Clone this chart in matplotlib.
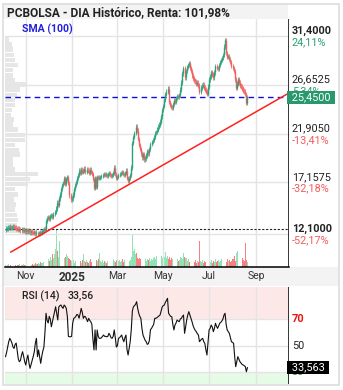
import numpy as np
import pandas as pd
import matplotlib
matplotlib.use("Agg")
import matplotlib.pyplot as plt
from matplotlib.patches import Rectangle
import matplotlib.transforms as mtransforms

plt.rcParams['font.family'] = ['Roboto', 'DejaVu Sans']

# ---------------- data ----------------
dates = pd.bdate_range('2024-10-07', '2025-08-20')

close_oct = [12.6, 12.65, 12.7, 12.75, 12.8, 12.7, 12.75, 12.85, 12.8, 12.7,
             12.65, 12.6, 12.55, 12.6, 12.5, 12.55, 12.45, 12.5, 12.4]
close_nov = [12.45, 12.4, 12.5, 12.35, 12.3, 12.4, 12.3, 12.25, 12.35, 12.2,
             12.25, 12.15, 12.2, 12.3, 12.25, 12.4, 12.5, 12.6, 12.55, 13.4, 13.7]
close_dec = [13.8, 13.6, 13.9, 14.0, 13.8, 14.1, 14.3, 14.6, 15.2, 15.0, 15.6,
             16.0, 16.5, 16.9, 17.1, 17.6, 17.0, 17.5, 17.7, 17.1, 15.9, 15.5]
close_jan = [15.6, 16.0, 16.5, 16.9, 17.2, 17.6, 17.9, 18.3, 18.1, 18.4, 18.2,
             18.3, 18.5, 18.2, 18.4, 18.3, 18.1, 18.4, 18.2, 18.0, 17.5, 16.6, 17.6]
close_feb = [16.7, 17.7, 17.6, 17.6, 17.7, 17.8, 17.9, 18.0, 17.9, 17.9, 17.8,
             18.0, 18.1, 17.9, 17.8, 17.9, 18.1, 18.6, 18.0, 17.6]
close_mar = [17.7, 17.9, 18.0, 18.1, 18.2, 18.0, 17.9, 18.1, 18.3, 17.6, 17.3,
             17.6, 17.9, 18.6, 21.0, 21.6, 22.0, 22.6, 22.2, 21.4, 20.8]
close_apr = [20.4, 20.0, 19.6, 19.9, 19.4, 19.5, 19.8, 20.2, 20.0, 20.4, 20.9,
             21.1, 21.3, 21.6, 22.0, 22.1, 22.3, 22.6, 22.8, 23.1, 23.6, 24.2]
close_may = [24.6, 25.2, 25.8, 26.0, 26.3, 25.0, 24.7, 24.5, 24.4, 24.8, 25.2,
             25.0, 25.4, 25.6, 25.5, 25.7, 26.2, 26.9, 27.8, 28.3, 27.4, 28.0]
close_jun = [28.4, 28.6, 28.8, 28.3, 28.0, 27.6, 27.3, 27.1, 27.0, 26.8, 26.9,
             26.6, 26.0, 26.4, 26.6, 26.7, 26.4, 26.2, 26.0, 25.8, 26.5]
close_jul = [27.2, 27.5, 27.9, 27.7, 27.4, 27.9, 28.5, 28.3, 28.2, 28.6, 28.9,
             29.1, 29.3, 29.6, 30.4, 31.0, 29.8, 29.4, 29.5, 29.2, 28.9, 28.5, 28.3]
close_aug = [28.0, 27.2, 26.4, 26.8, 27.2, 26.9, 26.6, 26.5, 26.3, 26.1, 26.0,
             25.8, 24.9, 25.45]
first_open = 12.55

vol_oct = [2, 1, 2, 3, 1, 2, 2, 1, 3, 2, 1, 2, 2, 3, 1, 2, 2, 3, 2]
vol_nov = [2, 3, 2, 2, 3, 2, 3, 2, 3, 4, 3, 3, 4, 3, 5, 4, 4, 5, 6, 15, 10]
vol_dec = [8, 6, 10, 7, 12, 9, 12, 17, 36, 15, 10, 25, 15, 12, 13, 9, 10, 12, 11, 9, 8, 7]
vol_jan = [6, 5, 7, 4, 6, 5, 8, 5, 6, 4, 7, 12, 6, 5, 7, 5, 4, 6, 8, 5, 7, 22, 8]
vol_feb = [7, 6, 8, 13, 6, 5, 7, 4, 6, 5, 4, 6, 5, 7, 6, 5, 8, 6, 5, 7]
vol_mar = [5, 6, 7, 5, 6, 8, 5, 7, 6, 5, 8, 6, 7, 10, 32, 15, 17, 12, 13, 9, 8]
vol_apr = [9, 8, 10, 7, 9, 8, 6, 8, 7, 9, 6, 8, 7, 9, 10, 8, 11, 12, 10, 13, 11, 9]
vol_may = [12, 10, 14, 9, 11, 8, 10, 7, 9, 8, 6, 9, 7, 8, 6, 7, 10, 9, 8, 13, 10, 9]
vol_jun = [9, 6, 8, 5, 7, 8, 6, 5, 7, 4, 6, 5, 25, 6, 5, 7, 4, 6, 5, 7, 6]
vol_jul = [6, 5, 7, 4, 6, 5, 8, 5, 6, 7, 5, 6, 8, 9, 7, 6, 5, 8, 6, 7, 5, 6, 8]
vol_aug = [8, 11, 6, 13, 15, 8, 6, 7, 9, 7, 6, 23, 7, 5]

rsi_oct = [41.8, 45, 49, 53, 55.5, 54, 52, 49, 48, 51, 52, 46, 40, 38, 39, 43, 45.5, 42, 38]
rsi_nov = [35.5, 40, 43, 37, 33, 36, 39, 42, 45.5, 52, 55.5, 41.8, 46.8, 42, 36.8,
           42, 46, 49, 60, 74.3, 69]
rsi_dec = [67, 72, 70, 64.2, 68, 71.7, 76, 79.2, 74, 69.3, 79, 80, 80.5, 79, 78,
           80.5, 79.5, 78, 72, 57, 56.7, 56.7]
rsi_jan = [57, 66.8, 70.5, 71, 72, 73.5, 73, 70.6, 74, 78, 75, 70.5, 72, 71.7, 70,
           68, 70.5, 69, 68, 66, 55, 46.8, 61.8]
rsi_feb = [46.8, 61.8, 57, 55.5, 55.5, 56, 57, 58, 57, 57, 56.7, 57, 59.3, 58, 56,
           55.5, 57, 61.8, 56, 49]
rsi_mar = [50, 55.5, 56, 57, 58, 55, 53, 56, 58, 47, 43, 48, 53, 62, 76, 79.2, 80,
           81, 83, 78, 74.3]
rsi_apr = [72, 70.5, 63, 58, 56, 54, 53, 51, 51.5, 54, 62, 63, 64.5, 66, 70.5, 70.5,
           71, 71.7, 72.5, 73, 76, 79]
rsi_may = [80, 80.5, 82.5, 84, 85.5, 74.3, 73, 72, 71.7, 66, 61.8, 65.5, 67, 69.3,
           68.5, 68, 70, 70.5, 72, 73, 59.3, 64]
rsi_jun = [69.3, 73, 75.5, 73, 70.5, 68, 65, 63, 61.5, 60.5, 59, 58, 53, 54, 55,
           55.5, 53, 51.8, 47, 43, 52]
rsi_jul = [61.8, 63, 65.5, 64, 60.5, 63, 66.8, 64.5, 63, 65, 66.8, 67.5, 68.5, 70,
           73, 74.3, 66, 61.8, 60.5, 59.3, 56, 53, 52.5]
rsi_aug = [51.8, 42, 34.3, 38, 41.8, 40, 38, 37, 36, 35.5, 35, 34.3, 30.5, 33.56]

# volume profile (price level, relative width)
profile_prices = [12.5, 13.0, 13.5, 14.0, 14.5, 15.0, 15.5, 16.0, 16.5, 17.0, 17.5,
                  18.0, 18.4, 18.9, 19.4, 19.9, 20.3, 20.8, 21.3, 21.8, 22.3, 22.8,
                  23.3, 23.7, 24.2, 24.7, 25.2, 25.7, 26.2, 26.7, 27.1, 27.6, 28.1,
                  28.6, 29.1, 29.6, 30.1, 30.6, 31.1]
profile_widths = [13, 12, 13, 12, 10, 11, 9, 13, 10, 23, 25, 33, 10, 8, 8, 15, 14, 10,
                  20, 20, 13, 8, 9, 6, 7, 10, 10, 12, 15, 22, 10, 8, 8, 13, 10, 9, 8, 7, 4]

price_levels = [31.4, 26.6525, 21.905, 17.1575, 12.1]
price_texts = ['31,4000', '26,6525', '21,9050', '17,1575', '12,1000']
pct_texts = ['24,11%', '5,34%', '-13,41%', '-32,18%', '-52,17%']
start_price = 12.6
last_price = 25.45
last_text = '25,4500'
rsi_last_text = '33,563'
rsi_header = '33,56'
title = 'PCBOLSA - DIA Histórico, Renta: 101,98%'
month_labels = ['Nov', '2025', 'Mar', 'May', 'Jul', 'Sep']
month_starts = ['2024-11', '2025-01', '2025-03', '2025-05', '2025-07', '2025-09']
trend_dates = ['2024-10-14', '2025-11-07']
trend_prices = [10.38, 26.95]

closes = np.array(close_oct + close_nov + close_dec + close_jan + close_feb + close_mar +
                  close_apr + close_may + close_jun + close_jul + close_aug)
vols = np.array(vol_oct + vol_nov + vol_dec + vol_jan + vol_feb + vol_mar +
                vol_apr + vol_may + vol_jun + vol_jul + vol_aug, dtype=float)
rsi = np.array(rsi_oct + rsi_nov + rsi_dec + rsi_jan + rsi_feb + rsi_mar +
               rsi_apr + rsi_may + rsi_jun + rsi_jul + rsi_aug)
n = len(dates)
opens = np.concatenate([[first_open], closes[:-1]])
idx = np.arange(n)

# index positions of calendar dates (extended business calendar)
cal = pd.bdate_range('2024-10-07', '2025-12-31')
def pos(d):
    return int(np.searchsorted(cal, pd.Timestamp(d)))
tick_pos = [pos(m + '-01') for m in month_starts]
trend_x = [pos(d) for d in trend_dates]

# ---------------- figure ----------------
W, H = 343, 390
fig = plt.figure(figsize=(W / 100, H / 100), dpi=100)
def fx(px): return px / W
def fy(py): return 1 - py / H

GREEN = '#26a17a'
RED = '#f25c5c'
VGREEN = '#8fe3b4'
VRED = '#f77f7f'
GRID = '#e4e4e4'

# outer frame & strips
fig.add_artist(Rectangle((fx(3), fy(286)), fx(335), 19 / H, transform=fig.transFigure,
                         facecolor='#f3f3f3', edgecolor='none', zorder=0))
fig.add_artist(Rectangle((fx(3), fy(19)), fx(285), 16 / H, transform=fig.transFigure,
                         facecolor='#f3f3f3', edgecolor='none', zorder=0))
fig.add_artist(Rectangle((fx(3.5), fy(384.5)), fx(335), 381 / H, transform=fig.transFigure,
                         facecolor='none', edgecolor='#dddddd', lw=1.2, zorder=10))

L, R = 5, 289
ax = fig.add_axes([fx(L), fy(267), fx(R - L), 248 / H])
xlim = (-0.5, 266)
ax.set_xlim(*xlim)
ax.set_ylim(8.92, 33.09)
for s in ax.spines.values():
    s.set_visible(False)
ax.axvline(xlim[1], color='black', lw=1.1, zorder=6)
ax.axhline(8.92, color='black', lw=1.1, zorder=6, clip_on=False)
for t in tick_pos:
    ax.axvline(t, color=GRID, lw=1, zorder=0)
for p in price_levels:
    ax.axhline(p, color=GRID, lw=1, zorder=0)

# volume profile
btrans = mtransforms.blended_transform_factory(ax.transAxes, ax.transData)
for p, w in zip(profile_prices, profile_widths):
    ax.add_patch(Rectangle((0, p - 0.22), w / (R - L), 0.44, transform=btrans,
                           facecolor='#e6e6e6', edgecolor='none', zorder=1))

# volume
axv = ax.twinx()
axv.set_xlim(*xlim)
axv.set_ylim(0, vols.max() * 6.6)
axv.axis('off')
vcol = [VGREEN if c >= o else VRED for o, c in zip(opens, closes)]
axv.bar(idx, vols, width=0.75, color=vcol, zorder=2)

# candles (body plus short wick)
ccol = [GREEN if c >= o else RED for o, c in zip(opens, closes)]
lo = np.minimum(opens, closes)
hi = np.maximum(opens, closes)
hi = np.where(hi - lo < 0.1, lo + 0.1, hi)
ax.vlines(idx, lo - 0.22, hi + 0.22, colors=ccol, lw=0.55, zorder=4)
ax.vlines(idx, lo, hi, colors=ccol, lw=1.0, zorder=4)

# reference lines
ax.axhline(start_price, color='#222222', lw=0.8, ls=(0, (2, 1.5)), zorder=3)
ax.axhline(last_price, color='#1010dd', lw=1.0, ls=(0, (4, 3)), zorder=3)
ax.plot(trend_x, trend_prices, color='#ff2020', lw=1.1, zorder=5)

ax.set_xticks(tick_pos)
ax.set_xticklabels(month_labels)
ax.tick_params(axis='x', length=0, pad=3, labelsize=7.5, colors='#333333')
ax.get_xticklabels()[1].set_fontweight('bold')
ax.get_xticklabels()[1].set_fontsize(8.5)
ax.set_yticks([])
ax.set_zorder(3)
axv.set_zorder(2)
ax.patch.set_visible(False)

# right price labels
rtrans = mtransforms.blended_transform_factory(ax.transAxes, ax.transData)
xr = 1.01
for i, (p, t, pt) in enumerate(zip(price_levels, price_texts, pct_texts)):
    bold = i in (0, 4)
    ax.text(xr, p + 0.05, t, transform=rtrans, ha='left', va='bottom', fontsize=7.8,
            fontweight='bold' if bold else 'normal', color='#222222', clip_on=False)
    ax.text(xr, p - 0.1, pt, transform=rtrans, ha='left', va='top', fontsize=7.8,
            color='#2e9e6e' if i < 2 else '#f25c5c', clip_on=False)
ax.text(1.0, last_price, ' ' + last_text + ' ', transform=rtrans, ha='left', va='center',
        fontsize=7.8, color='white', clip_on=False, zorder=8,
        bbox=dict(boxstyle='square,pad=0.15', facecolor='#27996c', edgecolor='none'))

# titles
fig.text(fx(7), fy(12.5), title, ha='left', va='center', fontsize=8.6, fontweight='bold',
         color='#222222')
fig.text(fx(22), fy(29), 'SMA (100)', ha='left', va='center', fontsize=7.6,
         fontweight='bold', color='#2222dd')

# ---------------- RSI ----------------
axr = fig.add_axes([fx(L), fy(384), fx(R - L), 97 / H])
axr.set_xlim(*xlim)
axr.set_ylim(21.3, 94)
for s in axr.spines.values():
    s.set_visible(False)
axr.axhspan(70, 94, color='#fde8e8', lw=0, zorder=0)
axr.axhspan(21.3, 30, color='#e6fbe6', lw=0, zorder=0)
for t in tick_pos:
    axr.axvline(t, color=GRID, lw=1, zorder=1)
for lv in (70, 50, 30):
    axr.axhline(lv, color=GRID, lw=1, zorder=1)
axr.axvline(xlim[1], color='black', lw=1.1, zorder=6)
axr.plot(idx, rsi, color='#111111', lw=0.8, zorder=4)
axr.set_xticks([])
axr.set_yticks([])
rt2 = mtransforms.blended_transform_factory(axr.transAxes, axr.transData)
axr.text(xr, 70, '70', transform=rt2, ha='left', va='center', fontsize=7.8,
         fontweight='bold', color='#ee1111', clip_on=False)
axr.text(xr, 50, '50', transform=rt2, ha='left', va='center', fontsize=7.8,
         color='#222222', clip_on=False)
axr.text(xr, 30, '30', transform=rt2, ha='left', va='center', fontsize=7.8,
         fontweight='bold', color='#22aa22', clip_on=False)
axr.text(1.0, rsi[-1], ' ' + rsi_last_text + ' ', transform=rt2, ha='left', va='center',
         fontsize=7.8, color='white', clip_on=False, zorder=8,
         bbox=dict(boxstyle='square,pad=0.15', facecolor='black', edgecolor='none'))
fig.text(fx(22), fy(296), 'RSI (14)', ha='left', va='center', fontsize=7.6,
         fontweight='medium', color='#222222')
fig.text(fx(68), fy(296), rsi_header, ha='left', va='center', fontsize=7.6,
         fontweight='medium', color='#222222')

fig.savefig('out.png', dpi=100)
